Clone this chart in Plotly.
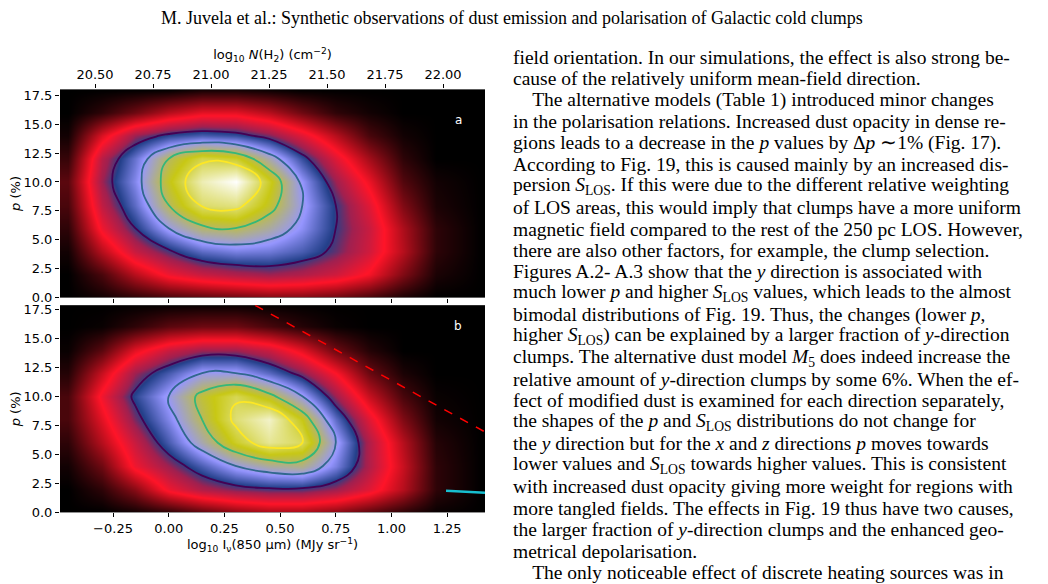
import plotly.graph_objects as go

# grid for density maps (bottom axis: log10 I850, y: p %)
xg = [-0.45, -0.3, -0.15, 0, 0.15, 0.3, 0.45, 0.6, 0.75, 0.9, 1.05, 1.2, 1.4]
yg = [0, 2, 4, 6, 8, 10, 12, 14, 16, 18]
za = [
 [0, 0.02, 0.05, 0.08, 0.1, 0.12, 0.14, 0.14, 0.12, 0.08, 0.03, 0, 0],
 [0, 0.08, 0.2, 0.3, 0.35, 0.38, 0.4, 0.38, 0.34, 0.27, 0.14, 0.03, 0],
 [0.02, 0.2, 0.35, 0.44, 0.52, 0.55, 0.54, 0.5, 0.43, 0.34, 0.2, 0.05, 0],
 [0.05, 0.3, 0.45, 0.6, 0.7, 0.72, 0.66, 0.57, 0.45, 0.35, 0.19, 0.05, 0],
 [0.08, 0.36, 0.52, 0.72, 0.86, 0.88, 0.76, 0.6, 0.45, 0.32, 0.14, 0.03, 0],
 [0.1, 0.4, 0.56, 0.77, 0.93, 1.0, 0.8, 0.58, 0.4, 0.26, 0.09, 0.02, 0],
 [0.06, 0.37, 0.53, 0.72, 0.83, 0.8, 0.65, 0.48, 0.32, 0.18, 0.05, 0, 0],
 [0.02, 0.24, 0.4, 0.47, 0.5, 0.48, 0.42, 0.32, 0.2, 0.08, 0.02, 0, 0],
 [0, 0.05, 0.12, 0.2, 0.25, 0.25, 0.2, 0.12, 0.05, 0.02, 0, 0, 0],
 [0, 0, 0, 0, 0.02, 0.02, 0.01, 0, 0, 0, 0, 0, 0],
]
zb = [
 [0, 0, 0.02, 0.05, 0.1, 0.15, 0.18, 0.18, 0.15, 0.1, 0.05, 0.01, 0],
 [0, 0.05, 0.15, 0.3, 0.38, 0.42, 0.44, 0.44, 0.4, 0.32, 0.2, 0.05, 0],
 [0.02, 0.12, 0.3, 0.4, 0.5, 0.6, 0.66, 0.68, 0.55, 0.38, 0.22, 0.05, 0],
 [0.05, 0.2, 0.35, 0.5, 0.65, 0.8, 0.9, 0.85, 0.6, 0.38, 0.2, 0.04, 0],
 [0.08, 0.25, 0.42, 0.56, 0.72, 0.87, 0.95, 0.78, 0.52, 0.32, 0.14, 0.02, 0],
 [0.08, 0.3, 0.47, 0.6, 0.75, 0.84, 0.75, 0.6, 0.4, 0.22, 0.08, 0.01, 0],
 [0.04, 0.22, 0.4, 0.5, 0.6, 0.6, 0.52, 0.42, 0.28, 0.12, 0.03, 0, 0],
 [0.01, 0.1, 0.25, 0.35, 0.4, 0.4, 0.35, 0.25, 0.12, 0.04, 0, 0, 0],
 [0, 0.01, 0.05, 0.1, 0.12, 0.12, 0.08, 0.04, 0.01, 0, 0, 0, 0],
 [0, 0, 0, 0, 0, 0, 0, 0, 0, 0, 0, 0, 0],
]
levels = [0.45, 0.6, 0.72, 0.85]
level_colors = ["#440154", "#31688e", "#35b779", "#fde725"]
dash_x = [0.388, 1.42]
dash_y = [17.84, 6.93]
cyan_x = [1.245, 1.42]
cyan_y = [1.86, 1.69]

text_lines = [
 "field orientation. In our simulations, the effect is also strong be-",
 "cause of the relatively uniform mean-field direction.",
 "    The alternative models (Table 1) introduced minor changes",
 "in the polarisation relations. Increased dust opacity in dense re-",
 "gions leads to a decrease in the <i>p</i> values by Δ<i>p</i> ∼1% (Fig. 17).",
 "According to Fig. 19, this is caused mainly by an increased dis-",
 "persion <i>S</i><sub>LOS</sub>. If this were due to the different relative weighting",
 "of LOS areas, this would imply that clumps have a more uniform",
 "magnetic field compared to the rest of the 250 pc LOS. However,",
 "there are also other factors, for example, the clump selection.",
 "Figures A.2- A.3 show that the <i>y</i> direction is associated with",
 "much lower <i>p</i> and higher <i>S</i><sub>LOS</sub> values, which leads to the almost",
 "bimodal distributions of Fig. 19. Thus, the changes (lower <i>p</i>,",
 "higher <i>S</i><sub>LOS</sub>) can be explained by a larger fraction of <i>y</i>-direction",
 "clumps. The alternative dust model <i>M</i><sub>5</sub> does indeed increase the",
 "relative amount of <i>y</i>-direction clumps by some 6%. When the ef-",
 "fect of modified dust is examined for each direction separately,",
 "the shapes of the <i>p</i> and <i>S</i><sub>LOS</sub> distributions do not change for",
 "the <i>y</i> direction but for the <i>x</i> and <i>z</i> directions <i>p</i> moves towards",
 "lower values and <i>S</i><sub>LOS</sub> towards higher values. This is consistent",
 "with increased dust opacity giving more weight for regions with",
 "more tangled fields. The effects in Fig. 19 thus have two causes,",
 "the larger fraction of <i>y</i>-direction clumps and the enhanced geo-",
 "metrical depolarisation.",
 "    The only noticeable effect of discrete heating sources was in",
]

W, H = 1048, 584
OFFX, OFFY = 8, 8
cscale = [[0, "#000000"], [0.28, "#ff1428"], [0.40, "#a02050"], [0.46, "#23408a"],
          [0.58, "#9696ff"], [0.78, "#c8c814"], [1, "#ffffff"]]

fig = go.Figure()
for z, xa, ya in [(za, "x", "y"), (zb, "x2", "y2")]:
    fig.add_trace(go.Heatmap(x=xg, y=yg, z=z, colorscale=cscale, zmin=0, zmax=1,
                             zsmooth="best", showscale=False, xaxis=xa, yaxis=ya))
    for lv, c in zip(levels, level_colors):
        fig.add_trace(go.Contour(x=xg, y=yg, z=z, xaxis=xa, yaxis=ya, showscale=False,
                                 contours=dict(start=lv, end=lv, size=1, coloring="none"),
                                 line=dict(color=c, width=1.8, smoothing=1.3)))
fig.add_trace(go.Scatter(x=dash_x, y=dash_y, mode="lines", xaxis="x2", yaxis="y2",
                         line=dict(color="red", dash="dash", width=1.5)))
fig.add_trace(go.Scatter(x=cyan_x, y=cyan_y, mode="lines", xaxis="x2", yaxis="y2",
                         line=dict(color="#17becf", width=2.5)))
fig.add_trace(go.Scatter(x=[21.0], y=[-10], xaxis="x3", yaxis="y", mode="markers",
                         marker=dict(opacity=0)))

def px(v): return (v - OFFX) / W
def py(v): return 1 - (v - OFFY) / H

dx = [px(60), px(485)]
tickfont = dict(family="DejaVu Sans", size=13, color="black")
common = dict(ticks="outside", ticklen=4, tickcolor="black", showgrid=False, zeroline=False,
              showline=False, tickfont=tickfont, mirror=False)
xr = [-0.488, 1.42]
fig.update_layout(
    width=W, height=H, margin=dict(l=0, r=0, t=0, b=0), showlegend=False,
    paper_bgcolor="white", plot_bgcolor="black",
    xaxis=dict(domain=dx, range=xr, anchor="y", showticklabels=False,
               tickvals=[-0.25, 0, 0.25, 0.5, 0.75, 1.0, 1.25], **common),
    yaxis=dict(domain=[py(300), py(88)], range=[0, 18.0], anchor="x",
               tickvals=[0, 2.5, 5, 7.5, 10, 12.5, 15, 17.5], tickformat=".1f",
               title=dict(text="<i>p</i> (%)", font=tickfont, standoff=6), **common),
    xaxis3=dict(domain=dx, range=[20.349, 22.181], anchor="y", overlaying="x", side="top",
                tickvals=[20.5, 20.75, 21.0, 21.25, 21.5, 21.75, 22.0], tickformat=".2f",
                title=dict(text="log<sub>10</sub> <i>N</i>(H<sub>2</sub>) (cm<sup>−2</sup>)", font=tickfont, standoff=4),
                **common),
    xaxis2=dict(domain=dx, range=xr, anchor="y2",
                tickvals=[-0.25, 0, 0.25, 0.5, 0.75, 1.0, 1.25], tickformat=".2f",
                title=dict(text="log<sub>10</sub> I<sub>ν</sub>(850 µm) (MJy sr<sup>−1</sup>)", font=tickfont, standoff=4),
                **common),
    yaxis2=dict(domain=[py(519), py(308)], range=[0, 17.84], anchor="x2",
                tickvals=[0, 2.5, 5, 7.5, 10, 12.5, 15, 17.5], tickformat=".1f",
                title=dict(text="<i>p</i> (%)", font=tickfont, standoff=6), **common),
)

anns = [
    dict(x=px(512), y=py(15), xref="paper", yref="paper", text="M. Juvela et al.: Synthetic observations of dust emission and polarisation of Galactic cold clumps",
         showarrow=False, font=dict(family="Liberation Serif", size=18, color="black"), xanchor="center", yanchor="middle"),
    dict(x=px(458), y=py(110), xref="paper", yref="paper", text="a", showarrow=False,
         font=dict(family="DejaVu Sans", size=12, color="white")),
    dict(x=px(458), y=py(329), xref="paper", yref="paper", text="b", showarrow=False,
         font=dict(family="DejaVu Sans", size=12, color="white")),
]
for i, t in enumerate(text_lines):
    anns.append(dict(x=px(511), y=py(55 + i * 21.9), xref="paper", yref="paper", text=t,
                     showarrow=False, xanchor="left", yanchor="middle", align="left",
                     font=dict(family="Liberation Serif", size=19.5, color="black")))
fig.update_layout(annotations=anns)
fig.write_html("out.html")
